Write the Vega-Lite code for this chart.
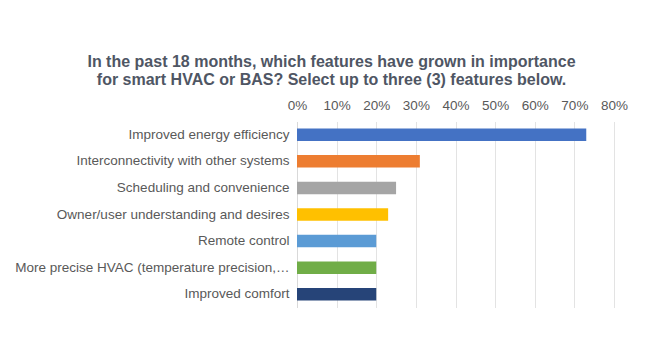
{
  "$schema": "https://vega.github.io/schema/vega-lite/v6.json",
  "autosize": {"type": "none"},
  "width": 317,
  "height": 186,
  "padding": {"left": 297, "top": 121.5, "right": 31, "bottom": 42.5},
  "background": "white",
  "title": {
    "text": ["In the past 18 months, which features have grown in importance", "for smart HVAC or BAS? Select up to three (3) features below."],
    "anchor": "middle",
    "dx": -124,
    "fontSize": 16,
    "fontWeight": "bold",
    "font": "Liberation Sans",
    "color": "#4F5664",
    "lineHeight": 18,
    "offset": 11
  },
  "data": {
    "values": [
      {"feature": "Improved energy efficiency", "pct": 0.73, "c": "a"},
      {"feature": "Interconnectivity with other systems", "pct": 0.31, "c": "b"},
      {"feature": "Scheduling and convenience", "pct": 0.25, "c": "c"},
      {"feature": "Owner/user understanding and desires", "pct": 0.23, "c": "d"},
      {"feature": "Remote control", "pct": 0.20, "c": "e"},
      {"feature": "More precise HVAC (temperature precision,…", "pct": 0.20, "c": "f"},
      {"feature": "Improved comfort", "pct": 0.20, "c": "g"}
    ]
  },
  "mark": {"type": "bar"},
  "encoding": {
    "y": {
      "field": "feature",
      "type": "nominal",
      "sort": null,
      "scale": {"paddingInner": 0.53, "paddingOuter": 0.265},
      "axis": {
        "title": null,
        "ticks": false,
        "labelFont": "Liberation Sans",
        "labelFontSize": 13.5,
        "labelColor": "#595959",
        "labelPadding": 8,
        "labelLimit": 300,
        "domainColor": "#D9D9D9",
        "grid": false
      }
    },
    "x": {
      "field": "pct",
      "type": "quantitative",
      "scale": {"domain": [0, 0.8], "nice": false},
      "axis": {
        "orient": "top",
        "title": null,
        "format": ".0%",
        "values": [0, 0.1, 0.2, 0.3, 0.4, 0.5, 0.6, 0.7, 0.8],
        "ticks": false,
        "domain": false,
        "labelFont": "Liberation Sans",
        "labelFontSize": 13.5,
        "labelColor": "#595959",
        "labelPadding": 9,
        "gridColor": "#E3E3E3",
        "labelFlush": false
      }
    },
    "color": {
      "field": "c",
      "type": "nominal",
      "legend": null,
      "scale": {
        "domain": ["a", "b", "c", "d", "e", "f", "g"],
        "range": ["#4472C4", "#ED7D31", "#A5A5A5", "#FFC000", "#5B9BD5", "#70AD47", "#264478"]
      }
    }
  },
  "config": {"view": {"stroke": null}}
}
